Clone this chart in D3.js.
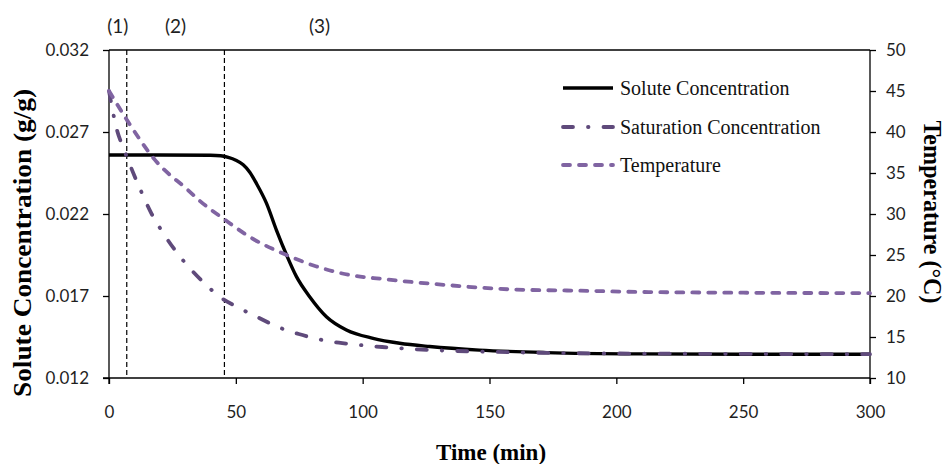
<!DOCTYPE html>
<html><head><meta charset="utf-8">
<script src="https://cdn.jsdelivr.net/npm/d3@7/dist/d3.min.js"></script>
<style>
html,body{margin:0;padding:0;background:#fff;}
svg{display:block;}
.tick text{font-family:Lato,"Open Sans",sans-serif;font-size:17px;fill:#1f1f1f;}
</style></head>
<body><svg id="chart" width="946" height="464"></svg>
<script>
// ---- data ----
const soluteTime = [0, 20, 40, 44, 47, 50, 52.9, 55.5, 58.1, 62.1, 66, 70, 73.9, 79.1, 85.7, 93.6, 104.1, 114.6, 126.4, 146, 172.3, 209, 250, 300];
const soluteConc = [0.0256, 0.0256, 0.02558, 0.02555, 0.02545, 0.02528, 0.0250, 0.02455, 0.02387, 0.02265, 0.02102, 0.0195, 0.01818, 0.01696, 0.01574, 0.01493, 0.01442, 0.01412, 0.01392, 0.01370, 0.01355, 0.01347, 0.01345, 0.01345];

const satTime = [0, 3, 6, 9.3, 12.9, 16.5, 21.3, 26, 31.9, 37.4, 44, 51.3, 59.4, 66.3, 74.8, 82.2, 90.6, 98.8, 107.7, 126, 150, 193, 250, 300];
const satConc = [0.0295, 0.0272, 0.0259, 0.0246, 0.0233, 0.0221, 0.02085, 0.0198, 0.01869, 0.01781, 0.01691, 0.01627, 0.01564, 0.01513, 0.01468, 0.01438, 0.01415, 0.01401, 0.01389, 0.01371, 0.0136, 0.0135, 0.01347, 0.01345];

const tempTime = [0, 7, 18.1, 31.2, 35.8, 45.7, 55.5, 70, 81.8, 94.9, 108, 133, 159, 185, 208, 250, 300];
const tempVal  = [45, 41.5, 36.6, 32.9, 31.6, 29.3, 27.2, 25.0, 23.6, 22.56, 22.07, 21.34, 20.8, 20.65, 20.5, 20.4, 20.35];

const seriesNames = ["Solute Concentration", "Saturation Concentration", "Temperature"];
const xTicks = [0, 50, 100, 150, 200, 250, 300];
const yLeftTicks = [0.012, 0.017, 0.022, 0.027, 0.032];
const yRightTicks = [10, 15, 20, 25, 30, 35, 40, 45, 50];
const phaseBoundaries = [7, 45.5];
const phaseLabels = ["(1)", "(2)", "(3)"];
const phaseLabelTime = [3.5, 26.25, 83];

// ---- layout ----
const svg = d3.select("#chart");
const L = 109, R = 870, T = 50, B = 378;
const x = d3.scaleLinear().domain([0, 300]).range([L, R]);
const yL = d3.scaleLinear().domain([0.012, 0.032]).range([B, T]);
const yR = d3.scaleLinear().domain([10, 50]).range([B, T]);

const axisColor = "#000";

// frame top
svg.append("line").attr("x1", L).attr("x2", R).attr("y1", T).attr("y2", T).attr("stroke", axisColor).attr("stroke-width", 1.3);

// axes
const gx = svg.append("g").attr("transform", `translate(0,${B})`)
  .call(d3.axisBottom(x).tickValues(xTicks).tickSize(6).tickPadding(22).tickFormat(d3.format("d")));
const gyl = svg.append("g").attr("transform", `translate(${L},0)`)
  .call(d3.axisLeft(yL).tickValues(yLeftTicks).tickSize(6).tickPadding(14).tickFormat(d3.format(".3f")));
const gyr = svg.append("g").attr("transform", `translate(${R},0)`)
  .call(d3.axisRight(yR).tickValues(yRightTicks).tickSize(6).tickPadding(10).tickFormat(d3.format("d")));
[gx, gyl, gyr].forEach(g => {
  g.select(".domain").attr("stroke", axisColor).attr("stroke-width", 1.3);
  g.selectAll(".tick line").attr("stroke", axisColor).attr("stroke-width", 1.3);
});
gx.select(".domain").attr("d", `M${L - 6},0H${R}`);
gyl.select(".domain").attr("d", `M0,${T}V${B + 6}`);
gyr.select(".domain").attr("d", `M0,${T}V${B + 6}`);

// phase boundaries
svg.selectAll(".phase").data(phaseBoundaries).join("line")
  .attr("x1", d => x(d)).attr("x2", d => x(d)).attr("y1", T).attr("y2", B)
  .attr("stroke", "#000").attr("stroke-width", 1.2).attr("stroke-dasharray", "5,3");
svg.selectAll(".plabel").data(phaseLabels).join("text")
  .attr("x", (d, i) => x(phaseLabelTime[i])).attr("y", 33)
  .attr("text-anchor", "middle").attr("font-family", "Lato, sans-serif").attr("font-size", 19)
  .attr("fill", "#1f1f1f").text(d => d);

// lines
const solute = soluteTime.map((t, i) => [t, soluteConc[i]]);
const sat = satTime.map((t, i) => [t, satConc[i]]);
const temp = tempTime.map((t, i) => [t, tempVal[i]]);
const lineL = d3.line().x(d => x(d[0])).y(d => yL(d[1])).curve(d3.curveMonotoneX);
const lineR = d3.line().x(d => x(d[0])).y(d => yR(d[1])).curve(d3.curveMonotoneX);

const styles = [
  {color: "#000000", width: 3.4, dash: null, cap: "butt"},
  {color: "#5f4a7b", width: 3.8, dash: "10,15,0.5,15", cap: "round"},
  {color: "#8064a2", width: 3.8, dash: "7,9", cap: "round"}
];
svg.append("path").attr("d", lineL(solute)).attr("fill", "none")
  .attr("stroke", styles[0].color).attr("stroke-width", styles[0].width);
svg.append("path").attr("d", lineL(sat)).attr("fill", "none")
  .attr("stroke", styles[1].color).attr("stroke-width", styles[1].width)
  .attr("stroke-dasharray", styles[1].dash).attr("stroke-linecap", styles[1].cap);
svg.append("path").attr("d", lineR(temp)).attr("fill", "none")
  .attr("stroke", styles[2].color).attr("stroke-width", styles[2].width)
  .attr("stroke-dasharray", styles[2].dash).attr("stroke-linecap", styles[2].cap);

// legend
const legY = [88, 127, 165];
const leg = svg.append("g");
seriesNames.forEach((name, i) => {
  leg.append("line").attr("x1", 563).attr("x2", 613).attr("y1", legY[i]).attr("y2", legY[i])
    .attr("stroke", styles[i].color).attr("stroke-width", styles[i].width)
    .attr("stroke-dasharray", styles[i].dash).attr("stroke-linecap", styles[i].cap);
  leg.append("text").attr("x", 620).attr("y", legY[i]).attr("dy", "0.35em")
    .attr("font-family", "Liberation Serif, serif").attr("font-size", 20).attr("fill", "#111")
    .text(name);
});

// axis titles
svg.append("text").attr("x", 491).attr("y", 452).attr("dy", "0.35em").attr("text-anchor", "middle")
  .attr("font-family", "Liberation Serif, serif").attr("font-weight", "bold").attr("font-size", 23)
  .attr("fill", "#000").text("Time (min)");
svg.append("text").attr("transform", "translate(22,243) rotate(-90)").attr("dy", "0.35em")
  .attr("text-anchor", "middle").attr("font-family", "Liberation Serif, serif").attr("font-weight", "bold")
  .attr("font-size", 25).attr("textLength", 308).attr("lengthAdjust", "spacingAndGlyphs")
  .attr("fill", "#000").text("Solute Concentration (g/g)");
svg.append("text").attr("transform", "translate(933,212) rotate(90)").attr("dy", "0.35em")
  .attr("text-anchor", "middle").attr("font-family", "Liberation Serif, serif").attr("font-weight", "bold")
  .attr("font-size", 25).attr("textLength", 183).attr("lengthAdjust", "spacingAndGlyphs")
  .attr("fill", "#000").text("Temperature (°C)");
</script></body></html>
